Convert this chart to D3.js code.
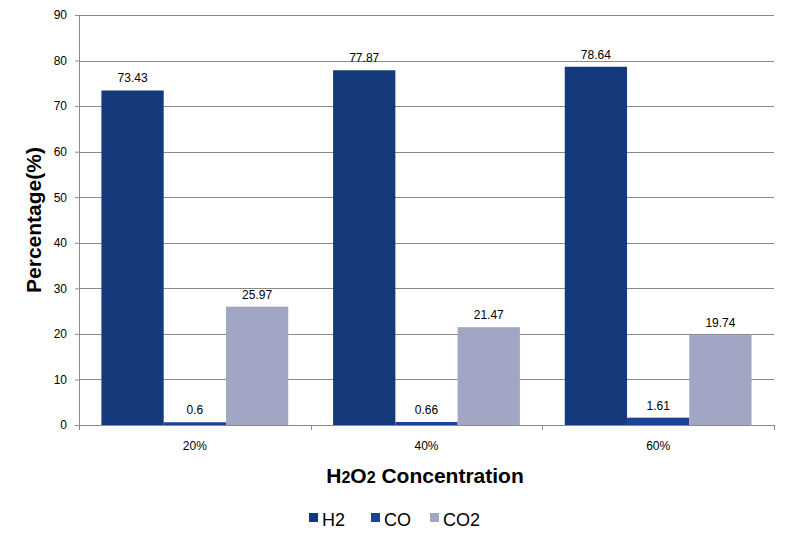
<!DOCTYPE html>
<html>
<head>
<meta charset="utf-8">
<script src="https://cdn.jsdelivr.net/npm/d3@7/dist/d3.min.js"></script>
<style>
  body { margin: 0; background: #fff; }
  text { font-family: Arial, "Liberation Sans", sans-serif; }
</style>
</head>
<body>
<svg id="chart" width="790" height="545"></svg>
<script>
const categories = ['20%', '40%', '60%'];
const seriesNames = ['H2', 'CO', 'CO2'];
const h2Values = [73.43, 77.87, 78.64];
const coValues = [0.6, 0.66, 1.61];
const co2Values = [25.97, 21.47, 19.74];
const yTicks = [0, 10, 20, 30, 40, 50, 60, 70, 80, 90];
const colors = ['#153a7b', '#1d4295', '#a2a6c5'];

const seriesValues = [h2Values, coValues, co2Values];

const svg = d3.select('#chart');
const margin = { top: 15, right: 16, bottom: 120, left: 79 };
const width = +svg.attr('width') - margin.left - margin.right;
const height = +svg.attr('height') - margin.top - margin.bottom;

const g = svg.append('g').attr('transform', `translate(${margin.left},${margin.top})`);

const x0 = d3.scaleBand().domain(categories).range([0, width]).paddingInner(0).paddingOuter(0);
const x1 = d3.scaleBand().domain(seriesNames).range([0, x0.bandwidth()]).paddingInner(0).paddingOuter(0.36);
const y = d3.scaleLinear().domain([0, 90]).range([height, 0]);

// gridlines
g.append('g')
  .selectAll('line')
  .data(yTicks.filter(d => d > 0))
  .join('line')
  .attr('x1', 0).attr('x2', width)
  .attr('y1', d => Math.round(y(d)) + 0.5).attr('y2', d => Math.round(y(d)) + 0.5)
  .attr('stroke', '#8a8a8a').attr('stroke-width', 1);

// bars
const groups = g.append('g').selectAll('g')
  .data(categories)
  .join('g')
  .attr('transform', d => `translate(${x0(d)},0)`);

groups.selectAll('rect')
  .data((d, i) => seriesNames.map((s, j) => ({ s, v: seriesValues[j][i], c: colors[j] })))
  .join('rect')
  .attr('x', d => x1(d.s))
  .attr('width', x1.bandwidth())
  .attr('y', d => y(d.v))
  .attr('height', d => y(0) - y(d.v))
  .attr('fill', d => d.c);

groups.selectAll('text.val')
  .data((d, i) => seriesNames.map((s, j) => ({ s, v: seriesValues[j][i] })))
  .join('text')
  .attr('class', 'val')
  .attr('x', d => x1(d.s) + x1.bandwidth() / 2)
  .attr('y', d => y(d.v) - 8)
  .attr('text-anchor', 'middle')
  .style('font-size', '12px')
  .attr('fill', '#000')
  .text(d => d.v);

// y axis
const yAxis = d3.axisLeft(y).tickValues(yTicks).tickSize(4).tickPadding(8);
const yg = g.append('g').call(yAxis);
yg.select('.domain').attr('stroke', '#8a8a8a');
yg.selectAll('.tick line').attr('stroke', '#8a8a8a');
yg.selectAll('.tick text').style('font-size', '12px').attr('fill', '#000')
  .style('font-family', 'Arial, "Liberation Sans", sans-serif');

// x axis
const xAxis = d3.axisBottom(x0).tickSize(0).tickPadding(16);
const xg = g.append('g').attr('transform', `translate(0,${height})`).call(xAxis);
xg.select('.domain').attr('stroke', '#8a8a8a');
xg.selectAll('.tick text').style('font-size', '12px').attr('fill', '#000')
  .style('font-family', 'Arial, "Liberation Sans", sans-serif');
xg.selectAll('line.sep')
  .data(d3.range(categories.length + 1))
  .join('line')
  .attr('class', 'sep')
  .attr('x1', i => Math.round(i * x0.bandwidth()) + 0.5)
  .attr('x2', i => Math.round(i * x0.bandwidth()) + 0.5)
  .attr('y1', 0).attr('y2', 5)
  .attr('stroke', '#8a8a8a');

// axis titles
svg.append('text')
  .attr('transform', `translate(41,${margin.top + height / 2}) rotate(-90)`)
  .attr('text-anchor', 'middle')
  .style('font-size', '21px')
  .style('font-weight', 'bold')
  .text('Percentage(%)');

const xt = svg.append('text')
  .attr('x', 425)
  .attr('y', 483)
  .attr('text-anchor', 'middle')
  .style('font-size', '21px')
  .style('font-weight', 'bold');
xt.append('tspan').text('H');
xt.append('tspan').style('font-size', '16px').text('2');
xt.append('tspan').text('O');
xt.append('tspan').style('font-size', '16px').text('2');
xt.append('tspan').text(' Concentration');

// legend
const legendX = [309, 371, 430];
const lg = svg.append('g');
seriesNames.forEach((s, i) => {
  lg.append('rect')
    .attr('x', legendX[i]).attr('y', 513)
    .attr('width', 9).attr('height', 9)
    .attr('fill', colors[i]);
  lg.append('text')
    .attr('x', legendX[i] + 13).attr('y', 526)
    .style('font-size', '18px')
    .text(s);
});
</script>
</body>
</html>
